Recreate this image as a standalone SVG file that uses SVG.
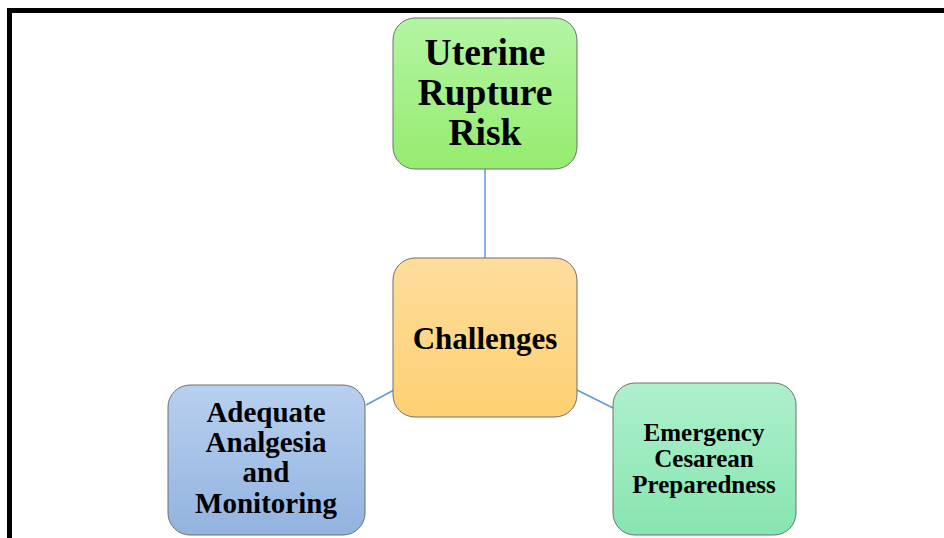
<svg xmlns="http://www.w3.org/2000/svg" width="944" height="538" viewBox="0 0 944 538">
<defs>
<linearGradient id="gGreen" x1="0" y1="0" x2="0" y2="1"><stop offset="0" stop-color="#b3f5a3"/><stop offset="1" stop-color="#95ec6e"/></linearGradient>
<linearGradient id="gOrange" x1="0" y1="0" x2="0" y2="1"><stop offset="0" stop-color="#fedd9c"/><stop offset="1" stop-color="#fdd172"/></linearGradient>
<linearGradient id="gBlue" x1="0" y1="0" x2="0" y2="1"><stop offset="0" stop-color="#b8d0ef"/><stop offset="1" stop-color="#92b3df"/></linearGradient>
<linearGradient id="gMint" x1="0" y1="0" x2="0" y2="1"><stop offset="0" stop-color="#aef0cc"/><stop offset="1" stop-color="#86e5b0"/></linearGradient>
</defs>
<style>
.box{stroke:#6f6f6f;stroke-width:1}
.t{font-family:"Liberation Serif","Times New Roman",serif;font-weight:bold;fill:#000;text-anchor:middle}
.conn line{stroke:#5b9bd5;stroke-width:1.5}
</style>
<rect width="944" height="538" fill="#fff"/>
<path d="M9.5 538 V10.5 H944" fill="none" stroke="#000" stroke-width="5"/>
<g class="conn" id="connectors">
<line x1="485" y1="168" x2="485" y2="258"/>
<line x1="366" y1="405" x2="394" y2="390"/>
<line x1="577" y1="390" x2="613" y2="408"/>
</g>
<g id="uterine">
<rect class="box" x="393" y="18" width="184" height="151" rx="22" fill="url(#gGreen)"/>
<text class="t" font-size="37.5"><tspan x="485" y="65">Uterine</tspan><tspan x="485" y="105">Rupture</tspan><tspan x="485" y="145">Risk</tspan></text>
</g>
<g id="challenges">
<rect class="box" x="393" y="258" width="184" height="159" rx="22" fill="url(#gOrange)"/>
<text class="t" font-size="31" x="485" y="349">Challenges</text>
</g>
<g id="analgesia">
<rect class="box" x="168" y="385" width="197" height="150" rx="22" fill="url(#gBlue)"/>
<text class="t" font-size="29"><tspan x="266" y="422">Adequate</tspan><tspan x="266" y="452">Analgesia</tspan><tspan x="266" y="482">and</tspan><tspan x="266" y="513">Monitoring</tspan></text>
</g>
<g id="cesarean">
<rect class="box" x="613" y="383" width="183" height="152" rx="22" fill="url(#gMint)"/>
<text class="t" font-size="25"><tspan x="704" y="441">Emergency</tspan><tspan x="704" y="467">Cesarean</tspan><tspan x="704" y="493">Preparedness</tspan></text>
</g>
</svg>
